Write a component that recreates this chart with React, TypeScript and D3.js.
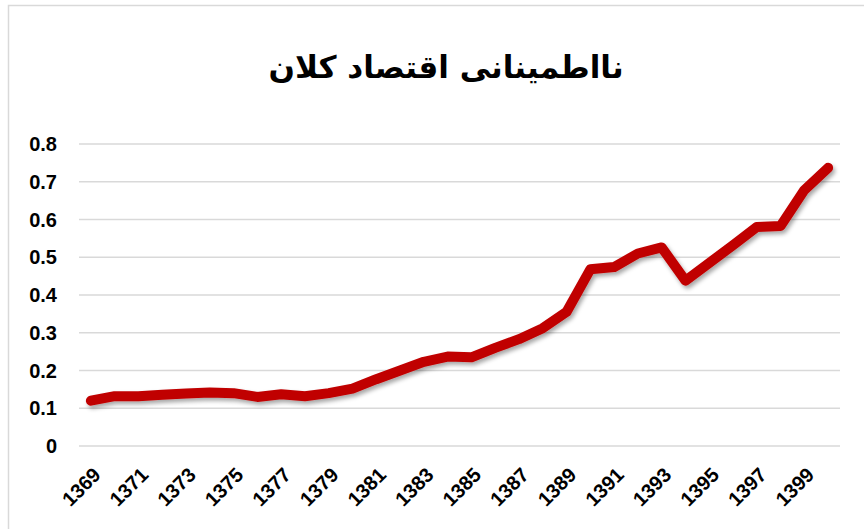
import React, { useEffect, useRef } from "react";
import * as d3 from "d3";

// chart title and series
const title = "نااطمینانی اقتصاد کلان";
const years = [
  1369, 1370, 1371, 1372, 1373, 1374, 1375, 1376, 1377, 1378, 1379, 1380,
  1381, 1382, 1383, 1384, 1385, 1386, 1387, 1388, 1389, 1390, 1391, 1392,
  1393, 1394, 1395, 1396, 1397, 1398, 1399, 1400,
];
const values = [
  0.12, 0.132, 0.132, 0.136, 0.139, 0.142, 0.14, 0.13, 0.137, 0.132, 0.14, 0.152,
  0.177, 0.2, 0.223, 0.237, 0.235, 0.26, 0.283, 0.312, 0.355, 0.468, 0.474, 0.51,
  0.526, 0.438, 0.485, 0.532, 0.58, 0.583, 0.678, 0.737,
];
const yTicks = [0, 0.1, 0.2, 0.3, 0.4, 0.5, 0.6, 0.7, 0.8];

const App = () => {
  const ref = useRef<SVGSVGElement>(null);

  useEffect(() => {
    const width = 864;
    const height = 529;
    const margin = { top: 144, right: 24, bottom: 83, left: 79 };

    const svg = d3.select(ref.current);
    svg.selectAll("*").remove();

    const defs = svg.append("defs");
    defs.append("filter")
      .attr("id", "shadow")
      .attr("x", "-10%").attr("y", "-10%")
      .attr("width", "120%").attr("height", "130%")
      .append("feDropShadow")
      .attr("dx", 2).attr("dy", 3)
      .attr("stdDeviation", 2)
      .attr("flood-color", "#000")
      .attr("flood-opacity", 0.35);

    svg.append("rect")
      .attr("width", width).attr("height", height)
      .attr("fill", "#fff");

    // chart area border (only top and left visible in the crop)
    svg.append("path")
      .attr("d", `M8.5,${height} V5.5 H${width}`)
      .attr("fill", "none")
      .attr("stroke", "#d9d9d9")
      .attr("stroke-width", 1.5);

    const x = d3.scaleBand<number>()
      .domain(years)
      .range([margin.left, width - margin.right]);

    const y = d3.scaleLinear()
      .domain([0, 0.8])
      .range([height - margin.bottom, margin.top]);

    // gridlines
    svg.append("g")
      .selectAll("line")
      .data(yTicks)
      .enter().append("line")
      .attr("x1", margin.left)
      .attr("x2", width - margin.right)
      .attr("y1", d => y(d))
      .attr("y2", d => y(d))
      .attr("stroke", "#d9d9d9")
      .attr("stroke-width", 1.5);

    // y labels
    svg.append("g")
      .selectAll("text")
      .data(yTicks)
      .enter().append("text")
      .attr("x", margin.left - 22)
      .attr("y", d => y(d))
      .attr("dy", "0.36em")
      .attr("text-anchor", "end")
      .attr("font-family", "'Liberation Sans', Arial, sans-serif")
      .attr("font-weight", "bold")
      .attr("font-size", 20)
      .attr("fill", "#000")
      .text(d => (d === 0 ? "0" : d3.format(".1f")(d)));

    // x labels, every other year
    const cx = (d: number) => (x(d) as number) + x.bandwidth() / 2;
    svg.append("g")
      .selectAll("text")
      .data(years.filter((_, i) => i % 2 === 0))
      .enter().append("text")
      .attr("transform", d => `translate(${cx(d) + 6},${height - margin.bottom + 25}) rotate(-45)`)
      .attr("text-anchor", "end")
      .attr("dy", "0.36em")
      .attr("font-family", "'Liberation Sans', Arial, sans-serif")
      .attr("font-weight", "bold")
      .attr("font-size", 20)
      .attr("fill", "#000")
      .text(d => d);

    // the series line
    const line = d3.line<number>()
      .x((_, i) => cx(years[i]))
      .y(d => y(d));

    svg.append("path")
      .datum(values)
      .attr("d", line)
      .attr("fill", "none")
      .attr("stroke", "#c00000")
      .attr("stroke-width", 10)
      .attr("stroke-linejoin", "round")
      .attr("stroke-linecap", "round")
      .attr("filter", "url(#shadow)");

    // title
    svg.append("text")
      .attr("x", 446)
      .attr("y", 78)
      .attr("text-anchor", "middle")
      .attr("direction", "rtl")
      .attr("font-family", "'DejaVu Sans', serif")
      .attr("font-weight", "bold")
      .attr("font-size", 31)
      .attr("fill", "#000")
      .text(title);
  }, []);

  return (
    <svg
      ref={ref}
      width={864}
      height={529}
      style={{ position: "absolute", left: 0, top: 0, display: "block" }}
    ></svg>
  );
};

export default App;
